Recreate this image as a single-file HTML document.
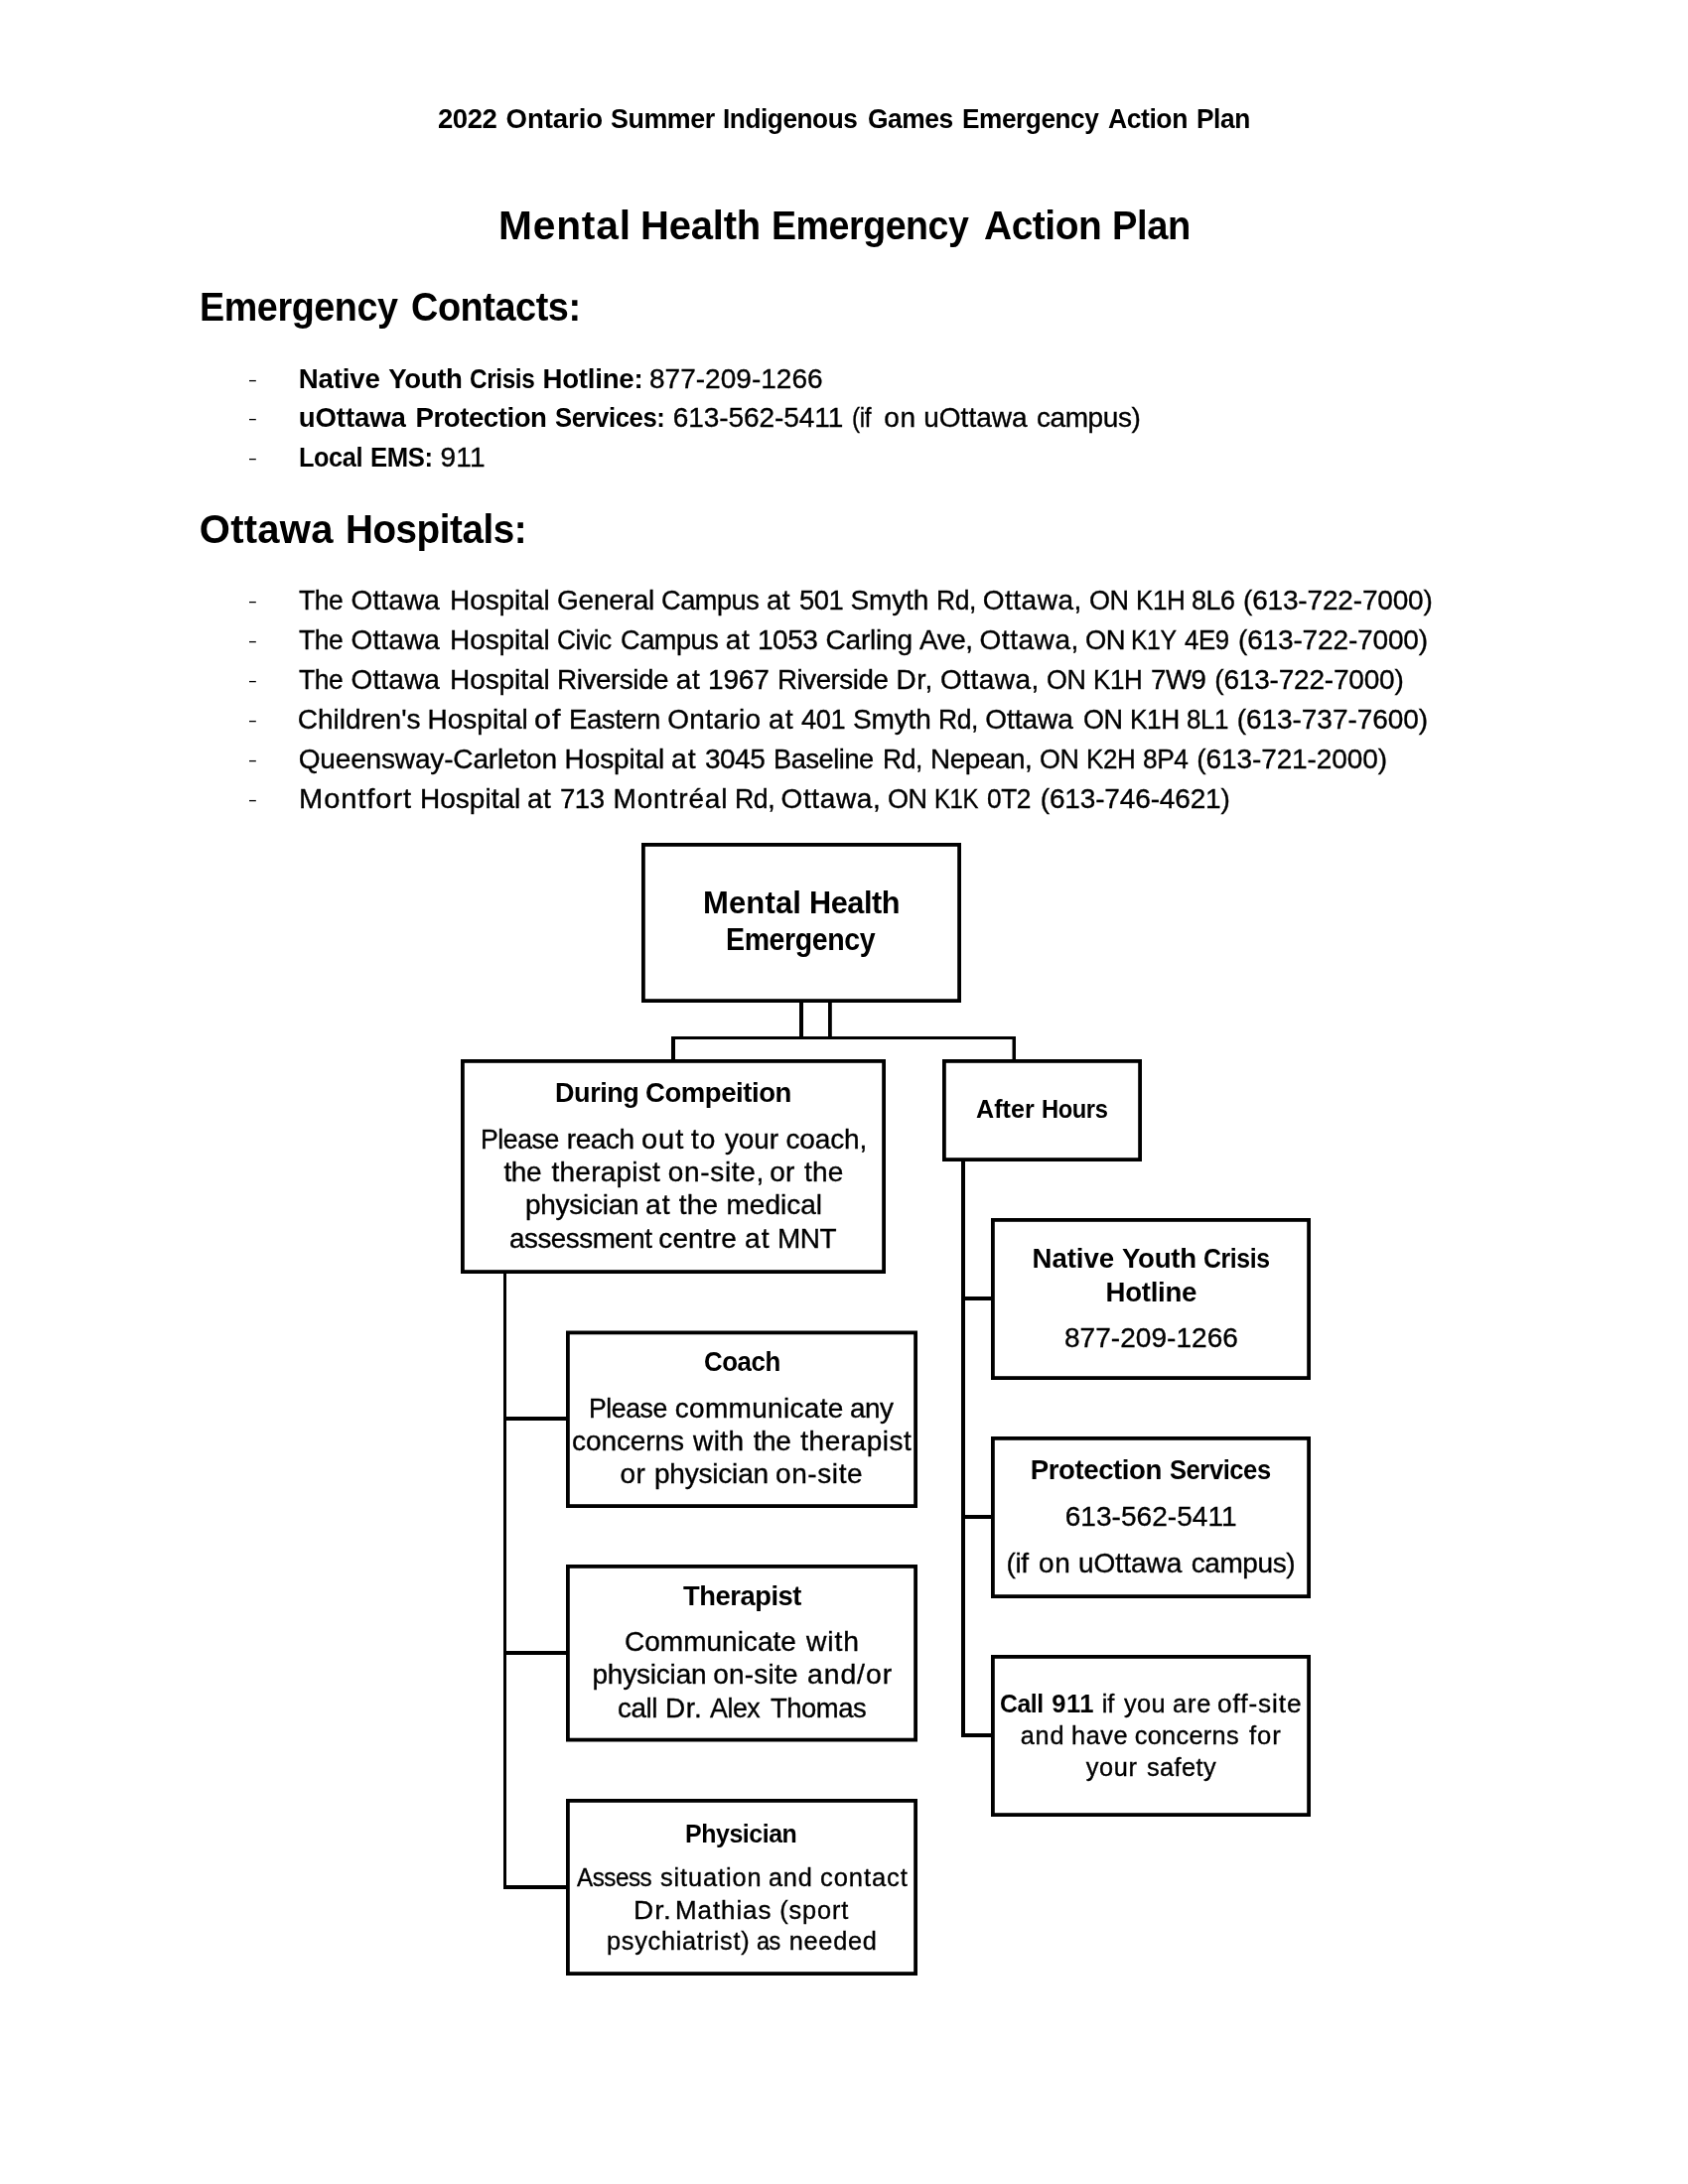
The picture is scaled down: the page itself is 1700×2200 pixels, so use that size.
<!DOCTYPE html>
<html lang="en"><head><meta charset="utf-8"><title>Mental Health Emergency Action Plan</title>
<style>
html,body{margin:0;padding:0;background:#fff}
body{width:1700px;height:2200px;position:relative;overflow:hidden;font-family:"Liberation Sans",sans-serif;color:#000}
#txt{position:absolute;left:0;top:0;width:1700px;height:2200px;will-change:transform}
.t{position:absolute;left:0;white-space:pre;line-height:1;margin:0}
.t span{position:absolute;top:0;transform-origin:0 0}
.t{-webkit-text-stroke:0.35px #000}
.b{font-weight:bold;-webkit-text-stroke:0}
.d{-webkit-text-stroke:0}
svg{position:absolute;left:0;top:0}
</style></head><body>
<svg width="1700" height="2200" viewBox="0 0 1700 2200">
<g fill="#000">
<rect x="805" y="1008" width="4" height="39"/>
<rect x="834" y="1008" width="3.8" height="39"/>
<rect x="676" y="1044" width="347" height="3"/>
<rect x="676" y="1044" width="4" height="25"/>
<rect x="1019.5" y="1044" width="3.5" height="25"/>
<rect x="507" y="1281" width="3" height="622"/>
<rect x="507" y="1427" width="65" height="4"/>
<rect x="507" y="1663" width="65" height="4"/>
<rect x="507" y="1899" width="65" height="4"/>
<rect x="968" y="1168" width="4" height="582"/>
<rect x="968" y="1306" width="32" height="4"/>
<rect x="968" y="1526" width="32" height="4"/>
<rect x="968" y="1746" width="32" height="4"/>
</g>
<g fill="#fff" stroke="#000" stroke-width="3.8">
<rect x="647.9" y="850.9" width="318.2" height="157.2"/>
<rect x="465.9" y="1068.9" width="424.2" height="212.2"/>
<rect x="950.9" y="1068.9" width="197.2" height="99.2"/>
<rect x="571.9" y="1342.4" width="350.2" height="174.7"/>
<rect x="571.9" y="1577.9" width="350.2" height="174.7"/>
<rect x="571.9" y="1813.9" width="350.2" height="174.2"/>
<rect x="999.9" y="1228.9" width="318.2" height="159.2"/>
<rect x="999.9" y="1448.9" width="318.2" height="159.2"/>
<rect x="999.9" y="1668.9" width="318.2" height="159.2"/>
</g>
</svg>
<div id="txt">
<div class="t b" style="top:105.75px;font-size:27.6px"><span style="left:441.25px;letter-spacing:-0.450px;transform:scaleX(0.9968)">2022 </span><span style="left:509.50px;letter-spacing:-0.085px">Ontario </span><span style="left:614.50px;letter-spacing:-0.450px;transform:scaleX(0.9730)">Summer </span><span style="left:727.80px;letter-spacing:-0.450px;transform:scaleX(0.9488)">Indigenous </span><span style="left:874.04px;letter-spacing:-0.450px;transform:scaleX(0.9562)">Games </span><span style="left:968.55px;letter-spacing:-0.450px;transform:scaleX(0.9494)">Emergency </span><span style="left:1116.25px;letter-spacing:-0.450px;transform:scaleX(0.9609)">Action </span><span style="left:1204.80px;letter-spacing:-0.450px;transform:scaleX(0.9534)">Plan</span></div>
<div class="t b" style="top:207.25px;font-size:40px"><span style="left:501.72px;letter-spacing:0.800px;transform:scaleX(1.0173)">Mental </span><span style="left:645.00px;letter-spacing:-0.212px">Health </span><span style="left:776.87px;letter-spacing:-0.450px;transform:scaleX(0.9380)">Emergency </span><span style="left:990.53px;letter-spacing:-0.450px;transform:scaleX(0.9726)">Action </span><span style="left:1119.59px;letter-spacing:-0.450px;transform:scaleX(0.9531)">Plan</span></div>
<div class="t b" style="top:288.50px;font-size:40px"><span style="left:200.61px;letter-spacing:-0.450px;transform:scaleX(0.9428)">Emergency </span><span style="left:414.05px;letter-spacing:-0.450px;transform:scaleX(0.9460)">Contacts:</span></div>
<div class="t d" style="top:367.50px;font-size:28px;transform:scaleY(0.62);transform-origin:0 15.30px"><span style="left:249.75px">-</span></div>
<div class="t b" style="top:367.50px;font-size:27.6px"><span style="left:300.75px;letter-spacing:-0.145px">Native </span><span style="left:391.25px;letter-spacing:-0.377px">Youth </span><span style="left:472.87px;letter-spacing:-0.450px;transform:scaleX(0.8824)">Crisis </span><span style="left:546.50px;letter-spacing:-0.215px">Hotline:</span></div>
<div class="t" style="top:367.50px;font-size:28px"><span style="left:654.00px;letter-spacing:0.018px">877-209-1266</span></div>
<div class="t d" style="top:407.00px;font-size:28px;transform:scaleY(0.62);transform-origin:0 15.30px"><span style="left:249.75px">-</span></div>
<div class="t b" style="top:407.00px;font-size:27.6px"><span style="left:300.75px;letter-spacing:-0.126px">uOttawa </span><span style="left:418.50px;letter-spacing:-0.450px">Protection </span><span style="left:558.75px;letter-spacing:-0.450px;transform:scaleX(0.9300)">Services:</span></div>
<div class="t" style="top:407.00px;font-size:28px"><span style="left:677.75px;letter-spacing:-0.066px">613-562-5411 </span><span style="left:857.88px;letter-spacing:-0.450px;transform:scaleX(0.8663)">(if </span><span style="left:890.25px;letter-spacing:0.678px">on </span><span style="left:930.25px;letter-spacing:0.008px">uOttawa </span><span style="left:1044.00px;letter-spacing:-0.424px">campus)</span></div>
<div class="t d" style="top:447.00px;font-size:28px;transform:scaleY(0.62);transform-origin:0 15.30px"><span style="left:249.75px">-</span></div>
<div class="t b" style="top:447.00px;font-size:27.6px"><span style="left:300.83px;letter-spacing:-0.450px;transform:scaleX(0.9171)">Local </span><span style="left:372.82px;letter-spacing:-0.450px;transform:scaleX(0.9310)">EMS:</span></div>
<div class="t" style="top:447.00px;font-size:28px"><span style="left:443.50px;letter-spacing:0.217px">911</span></div>
<div class="t b" style="top:513.00px;font-size:40px"><span style="left:200.75px;letter-spacing:0.277px">Ottawa </span><span style="left:348.07px;letter-spacing:-0.450px;transform:scaleX(0.9647)">Hospitals:</span></div>
<div class="t d" style="top:591.00px;font-size:28px;transform:scaleY(0.62);transform-origin:0 15.30px"><span style="left:249.75px">-</span></div>
<div class="t" style="top:591.00px;font-size:28px"><span style="left:300.75px;letter-spacing:-0.450px;transform:scaleX(0.9460)">The </span><span style="left:353.50px;letter-spacing:0.124px">Ottawa </span><span style="left:453.00px;letter-spacing:-0.062px">Hospital </span><span style="left:561.00px;letter-spacing:-0.232px">General </span><span style="left:666.03px;letter-spacing:-0.450px;transform:scaleX(0.9674)">Campus </span><span style="left:772.00px;letter-spacing:0.178px">at </span><span style="left:804.52px;letter-spacing:-0.450px;transform:scaleX(0.9775)">501 </span><span style="left:856.50px;letter-spacing:-0.132px">Smyth </span><span style="left:942.61px;letter-spacing:-0.450px;transform:scaleX(0.9449)">Rd, </span><span style="left:989.75px;letter-spacing:0.508px">Ottawa, </span><span style="left:1096.53px;letter-spacing:-0.450px;transform:scaleX(0.9653)">ON </span><span style="left:1143.65px;letter-spacing:-0.450px;transform:scaleX(0.9271)">K1H </span><span style="left:1199.79px;letter-spacing:-0.450px;transform:scaleX(0.9606)">8L6 </span><span style="left:1252.00px;letter-spacing:-0.169px">(613-722-7000)</span></div>
<div class="t d" style="top:631.00px;font-size:28px;transform:scaleY(0.62);transform-origin:0 15.30px"><span style="left:249.75px">-</span></div>
<div class="t" style="top:631.00px;font-size:28px"><span style="left:300.75px;letter-spacing:-0.450px;transform:scaleX(0.9460)">The </span><span style="left:353.50px;letter-spacing:0.124px">Ottawa </span><span style="left:453.00px;letter-spacing:-0.062px">Hospital </span><span style="left:561.06px;letter-spacing:-0.450px;transform:scaleX(0.9376)">Civic </span><span style="left:624.78px;letter-spacing:-0.450px;transform:scaleX(0.9674)">Campus </span><span style="left:730.75px;letter-spacing:0.678px">at </span><span style="left:763.00px;letter-spacing:-0.450px;transform:scaleX(0.9980)">1053 </span><span style="left:831.50px;letter-spacing:-0.188px">Carling </span><span style="left:925.75px;letter-spacing:-0.450px;transform:scaleX(0.9973)">Ave, </span><span style="left:986.50px;letter-spacing:0.549px">Ottawa, </span><span style="left:1092.77px;letter-spacing:-0.450px;transform:scaleX(0.9784)">ON </span><span style="left:1139.48px;letter-spacing:-0.450px;transform:scaleX(0.8838)">K1Y </span><span style="left:1193.00px;letter-spacing:-0.450px;transform:scaleX(0.9204)">4E9 </span><span style="left:1247.00px;letter-spacing:-0.150px">(613-722-7000)</span></div>
<div class="t d" style="top:671.00px;font-size:28px;transform:scaleY(0.62);transform-origin:0 15.30px"><span style="left:249.75px">-</span></div>
<div class="t" style="top:671.00px;font-size:28px"><span style="left:300.75px;letter-spacing:-0.450px;transform:scaleX(0.9460)">The </span><span style="left:353.50px;letter-spacing:0.124px">Ottawa </span><span style="left:453.00px;letter-spacing:-0.062px">Hospital </span><span style="left:561.01px;letter-spacing:-0.450px;transform:scaleX(0.9952)">Riverside </span><span style="left:680.75px;letter-spacing:0.678px">at </span><span style="left:713.00px;letter-spacing:-0.156px">1967 </span><span style="left:782.52px;letter-spacing:-0.450px;transform:scaleX(0.9884)">Riverside </span><span style="left:902.50px;letter-spacing:0.500px">Dr, </span><span style="left:947.00px;letter-spacing:0.466px">Ottawa, </span><span style="left:1053.54px;letter-spacing:-0.450px;transform:scaleX(0.9588)">ON </span><span style="left:1100.65px;letter-spacing:-0.450px;transform:scaleX(0.9271)">K1H </span><span style="left:1159.02px;letter-spacing:-0.450px;transform:scaleX(0.9846)">7W9 </span><span style="left:1223.25px;letter-spacing:-0.188px">(613-722-7000)</span></div>
<div class="t d" style="top:711.00px;font-size:28px;transform:scaleY(0.62);transform-origin:0 15.30px"><span style="left:249.75px">-</span></div>
<div class="t" style="top:711.00px;font-size:28px"><span style="left:299.75px;letter-spacing:0.014px">Children's </span><span style="left:430.50px;letter-spacing:0.009px">Hospital </span><span style="left:538.41px;letter-spacing:0.900px;transform:scaleX(1.0864)">of </span><span style="left:573.03px;letter-spacing:-0.450px;transform:scaleX(0.9837)">Eastern </span><span style="left:672.25px;letter-spacing:0.334px">Ontario </span><span style="left:773.99px;letter-spacing:0.900px;transform:scaleX(1.0118)">at </span><span style="left:806.75px;letter-spacing:-0.450px;transform:scaleX(0.9725)">401 </span><span style="left:859.00px;letter-spacing:-0.132px">Smyth </span><span style="left:945.11px;letter-spacing:-0.450px;transform:scaleX(0.9449)">Rd, </span><span style="left:992.25px;letter-spacing:-0.026px">Ottawa </span><span style="left:1090.78px;letter-spacing:-0.450px;transform:scaleX(0.9653)">ON </span><span style="left:1137.63px;letter-spacing:-0.450px;transform:scaleX(0.9372)">K1H </span><span style="left:1194.82px;letter-spacing:-0.450px;transform:scaleX(0.9267)">8L1 </span><span style="left:1245.75px;letter-spacing:-0.053px">(613-737-7600)</span></div>
<div class="t d" style="top:751.00px;font-size:28px;transform:scaleY(0.62);transform-origin:0 15.30px"><span style="left:249.75px">-</span></div>
<div class="t" style="top:751.00px;font-size:28px"><span style="left:300.75px;letter-spacing:-0.159px">Queensway-Carleton </span><span style="left:568.50px;letter-spacing:-0.062px">Hospital </span><span style="left:676.49px;letter-spacing:0.900px;transform:scaleX(1.0118)">at </span><span style="left:709.75px;letter-spacing:-0.450px;transform:scaleX(0.9980)">3045 </span><span style="left:779.31px;letter-spacing:-0.450px;transform:scaleX(0.9711)">Baseline </span><span style="left:888.86px;letter-spacing:-0.450px;transform:scaleX(0.9449)">Rd, </span><span style="left:937.26px;letter-spacing:-0.450px;transform:scaleX(0.9962)">Nepean, </span><span style="left:1047.29px;letter-spacing:-0.450px;transform:scaleX(0.9588)">ON </span><span style="left:1094.40px;letter-spacing:-0.450px;transform:scaleX(0.9271)">K2H </span><span style="left:1151.06px;letter-spacing:-0.450px;transform:scaleX(0.9398)">8P4 </span><span style="left:1205.25px;letter-spacing:-0.092px">(613-721-2000)</span></div>
<div class="t d" style="top:791.00px;font-size:28px;transform:scaleY(0.62);transform-origin:0 15.30px"><span style="left:249.75px">-</span></div>
<div class="t" style="top:791.00px;font-size:28px"><span style="left:300.92px;letter-spacing:0.900px;transform:scaleX(1.0375)">Montfort </span><span style="left:423.00px;letter-spacing:0.009px">Hospital </span><span style="left:531.00px;letter-spacing:0.428px">at </span><span style="left:564.02px;letter-spacing:-0.450px;transform:scaleX(0.9832)">713 </span><span style="left:617.50px;letter-spacing:0.862px">Montréal </span><span style="left:739.85px;letter-spacing:-0.450px;transform:scaleX(0.9513)">Rd, </span><span style="left:786.50px;letter-spacing:0.633px">Ottawa, </span><span style="left:894.03px;letter-spacing:-0.450px;transform:scaleX(0.9653)">ON </span><span style="left:940.79px;letter-spacing:-0.450px;transform:scaleX(0.8541)">K1K </span><span style="left:993.56px;letter-spacing:-0.450px;transform:scaleX(0.9394)">0T2 </span><span style="left:1047.75px;letter-spacing:-0.150px">(613-746-4621)</span></div>
<div class="t b" style="top:893.70px;font-size:31px"><span style="left:708.00px;letter-spacing:0.147px">Mental </span><span style="left:815.02px;letter-spacing:-0.450px;transform:scaleX(0.9893)">Health</span></div>
<div class="t b" style="top:931.45px;font-size:31px"><span style="left:731.16px;letter-spacing:-0.450px;transform:scaleX(0.9211)">Emergency</span></div>
<div class="t b" style="top:1087.20px;font-size:27.6px"><span style="left:558.52px;letter-spacing:-0.450px;transform:scaleX(0.9789)">During </span><span style="left:649.75px;letter-spacing:-0.450px;transform:scaleX(0.9976)">Compeition</span></div>
<div class="t" style="top:1133.95px;font-size:28px"><span style="left:483.85px;letter-spacing:-0.450px;transform:scaleX(0.9500)">Please </span><span style="left:570.75px;letter-spacing:-0.430px">reach </span><span style="left:645.71px;letter-spacing:0.900px;transform:scaleX(1.0389)">out </span><span style="left:696.25px;letter-spacing:0.900px;transform:scaleX(1.0030)">to </span><span style="left:730.00px;letter-spacing:-0.132px">your </span><span style="left:791.50px;letter-spacing:-0.143px">coach,</span></div>
<div class="t" style="top:1166.95px;font-size:28px"><span style="left:507.50px;letter-spacing:-0.426px">the </span><span style="left:555.50px;letter-spacing:0.236px">therapist </span><span style="left:672.75px;letter-spacing:0.673px">on-site, </span><span style="left:775.25px;letter-spacing:0.178px">or </span><span style="left:810.00px;letter-spacing:0.199px">the</span></div>
<div class="t" style="top:1200.20px;font-size:28px"><span style="left:529.00px;letter-spacing:-0.270px">physician </span><span style="left:650.24px;letter-spacing:0.900px;transform:scaleX(1.0118)">at </span><span style="left:683.75px;letter-spacing:0.199px">the </span><span style="left:731.50px">medical</span></div>
<div class="t" style="top:1233.95px;font-size:28px"><span style="left:512.76px;letter-spacing:-0.450px;transform:scaleX(0.9909)">assessment </span><span style="left:663.25px;letter-spacing:0.150px">centre </span><span style="left:750.24px;letter-spacing:0.900px;transform:scaleX(1.0118)">at </span><span style="left:783.01px;letter-spacing:-0.450px;transform:scaleX(0.9975)">MNT</span></div>
<div class="t b" style="top:1105.45px;font-size:25.1px"><span style="left:983.10px">After </span><span style="left:1049.05px;letter-spacing:-0.450px;transform:scaleX(0.9455)">Hours</span></div>
<div class="t b" style="top:1357.70px;font-size:27.6px"><span style="left:708.56px;letter-spacing:-0.450px;transform:scaleX(0.9358)">Coach</span></div>
<div class="t" style="top:1404.70px;font-size:28px"><span style="left:593.10px;letter-spacing:-0.450px;transform:scaleX(0.9500)">Please </span><span style="left:679.75px;letter-spacing:0.306px">communicate </span><span style="left:856.01px;letter-spacing:-0.450px;transform:scaleX(0.9943)">any</span></div>
<div class="t" style="top:1437.70px;font-size:28px"><span style="left:576.00px;letter-spacing:-0.088px">concerns </span><span style="left:698.00px;letter-spacing:0.426px">with </span><span style="left:758.75px;letter-spacing:-0.426px">the </span><span style="left:806.25px;letter-spacing:0.517px">therapist</span></div>
<div class="t" style="top:1471.45px;font-size:28px"><span style="left:624.50px;letter-spacing:0.428px">or </span><span style="left:659.00px;letter-spacing:-0.207px">physician </span><span style="left:781.00px;letter-spacing:0.589px">on-site</span></div>
<div class="t b" style="top:1594.45px;font-size:27.6px"><span style="left:687.50px;letter-spacing:-0.450px;transform:scaleX(0.9904)">Therapist</span></div>
<div class="t" style="top:1640.20px;font-size:28px"><span style="left:629.00px;letter-spacing:0.009px">Communicate </span><span style="left:811.51px;letter-spacing:0.900px;transform:scaleX(1.0112)">with</span></div>
<div class="t" style="top:1673.45px;font-size:28px"><span style="left:596.50px;letter-spacing:-0.207px">physician </span><span style="left:718.25px;letter-spacing:0.214px">on-site </span><span style="left:812.74px;letter-spacing:0.900px;transform:scaleX(1.0143)">and/or</span></div>
<div class="t" style="top:1707.20px;font-size:28px"><span style="left:622.01px;letter-spacing:-0.450px;transform:scaleX(0.9950)">call </span><span style="left:670.00px;letter-spacing:0.500px">Dr. </span><span style="left:715.00px;letter-spacing:-0.450px;transform:scaleX(0.9554)">Alex </span><span style="left:776.25px;letter-spacing:-0.450px;transform:scaleX(0.9781)">Thomas</span></div>
<div class="t b" style="top:1834.70px;font-size:25.6px"><span style="left:690.28px;letter-spacing:-0.450px;transform:scaleX(0.9736)">Physician</span></div>
<div class="t" style="top:1879.00px;font-size:25.3px"><span style="left:581.25px;letter-spacing:-0.450px;transform:scaleX(0.9537)">Assess </span><span style="left:665.00px;letter-spacing:0.900px;transform:scaleX(1.0015)">situation </span><span style="left:774.00px;letter-spacing:0.806px">and </span><span style="left:825.99px;letter-spacing:0.900px;transform:scaleX(1.0095)">contact</span></div>
<div class="t" style="top:1911.50px;font-size:25.3px"><span style="left:638.29px;letter-spacing:0.900px;transform:scaleX(1.1048)">Dr. </span><span style="left:680.45px;letter-spacing:0.900px;transform:scaleX(1.0265)">Mathias </span><span style="left:785.25px;letter-spacing:0.873px">(sport</span></div>
<div class="t" style="top:1942.70px;font-size:25.3px"><span style="left:611.00px;letter-spacing:0.727px">psychiatrist) </span><span style="left:762.08px;letter-spacing:-0.450px;transform:scaleX(0.9241)">as </span><span style="left:794.75px;letter-spacing:0.731px">needed</span></div>
<div class="t b" style="top:1253.95px;font-size:27.6px"><span style="left:1039.50px;letter-spacing:-0.045px">Native </span><span style="left:1130.00px;letter-spacing:-0.252px">Youth </span><span style="left:1211.60px;letter-spacing:-0.450px;transform:scaleX(0.8995)">Crisis</span></div>
<div class="t b" style="top:1287.70px;font-size:27.6px"><span style="left:1113.50px;letter-spacing:-0.277px">Hotline</span></div>
<div class="t" style="top:1333.95px;font-size:28px"><span style="left:1072.00px;letter-spacing:0.041px">877-209-1266</span></div>
<div class="t b" style="top:1466.95px;font-size:27.6px"><span style="left:1037.75px;letter-spacing:-0.427px">Protection </span><span style="left:1177.50px;letter-spacing:-0.450px;transform:scaleX(0.9246)">Services</span></div>
<div class="t" style="top:1513.95px;font-size:28px"><span style="left:1072.75px;letter-spacing:0.048px">613-562-5411</span></div>
<div class="t" style="top:1560.70px;font-size:28px"><span style="left:1013.50px;letter-spacing:-0.397px">(if </span><span style="left:1046.00px;letter-spacing:0.678px">on </span><span style="left:1086.00px;letter-spacing:0.008px">uOttawa </span><span style="left:1199.75px;letter-spacing:-0.424px">campus)</span></div>
<div class="t b" style="top:1704.20px;font-size:25.6px"><span style="left:1007.03px;letter-spacing:-0.450px;transform:scaleX(0.9660)">Call </span><span style="left:1059.25px;letter-spacing:0.472px">911</span></div>
<div class="t" style="top:1704.20px;font-size:25.3px"><span style="left:1109.75px;letter-spacing:-0.120px">if </span><span style="left:1132.00px;letter-spacing:0.391px">you </span><span style="left:1181.00px;letter-spacing:0.879px">are </span><span style="left:1226.46px;letter-spacing:0.900px;transform:scaleX(1.0353)">off-site</span></div>
<div class="t" style="top:1735.95px;font-size:25.3px"><span style="left:1027.75px;letter-spacing:0.806px">and </span><span style="left:1079.00px;letter-spacing:0.571px">have </span><span style="left:1142.75px;letter-spacing:0.322px">concerns </span><span style="left:1257.50px;letter-spacing:0.900px;transform:scaleX(1.0114)">for</span></div>
<div class="t" style="top:1767.70px;font-size:25.3px"><span style="left:1093.75px;letter-spacing:0.655px">your </span><span style="left:1155.00px;letter-spacing:0.431px">safety</span></div>
</div>
</body></html>
